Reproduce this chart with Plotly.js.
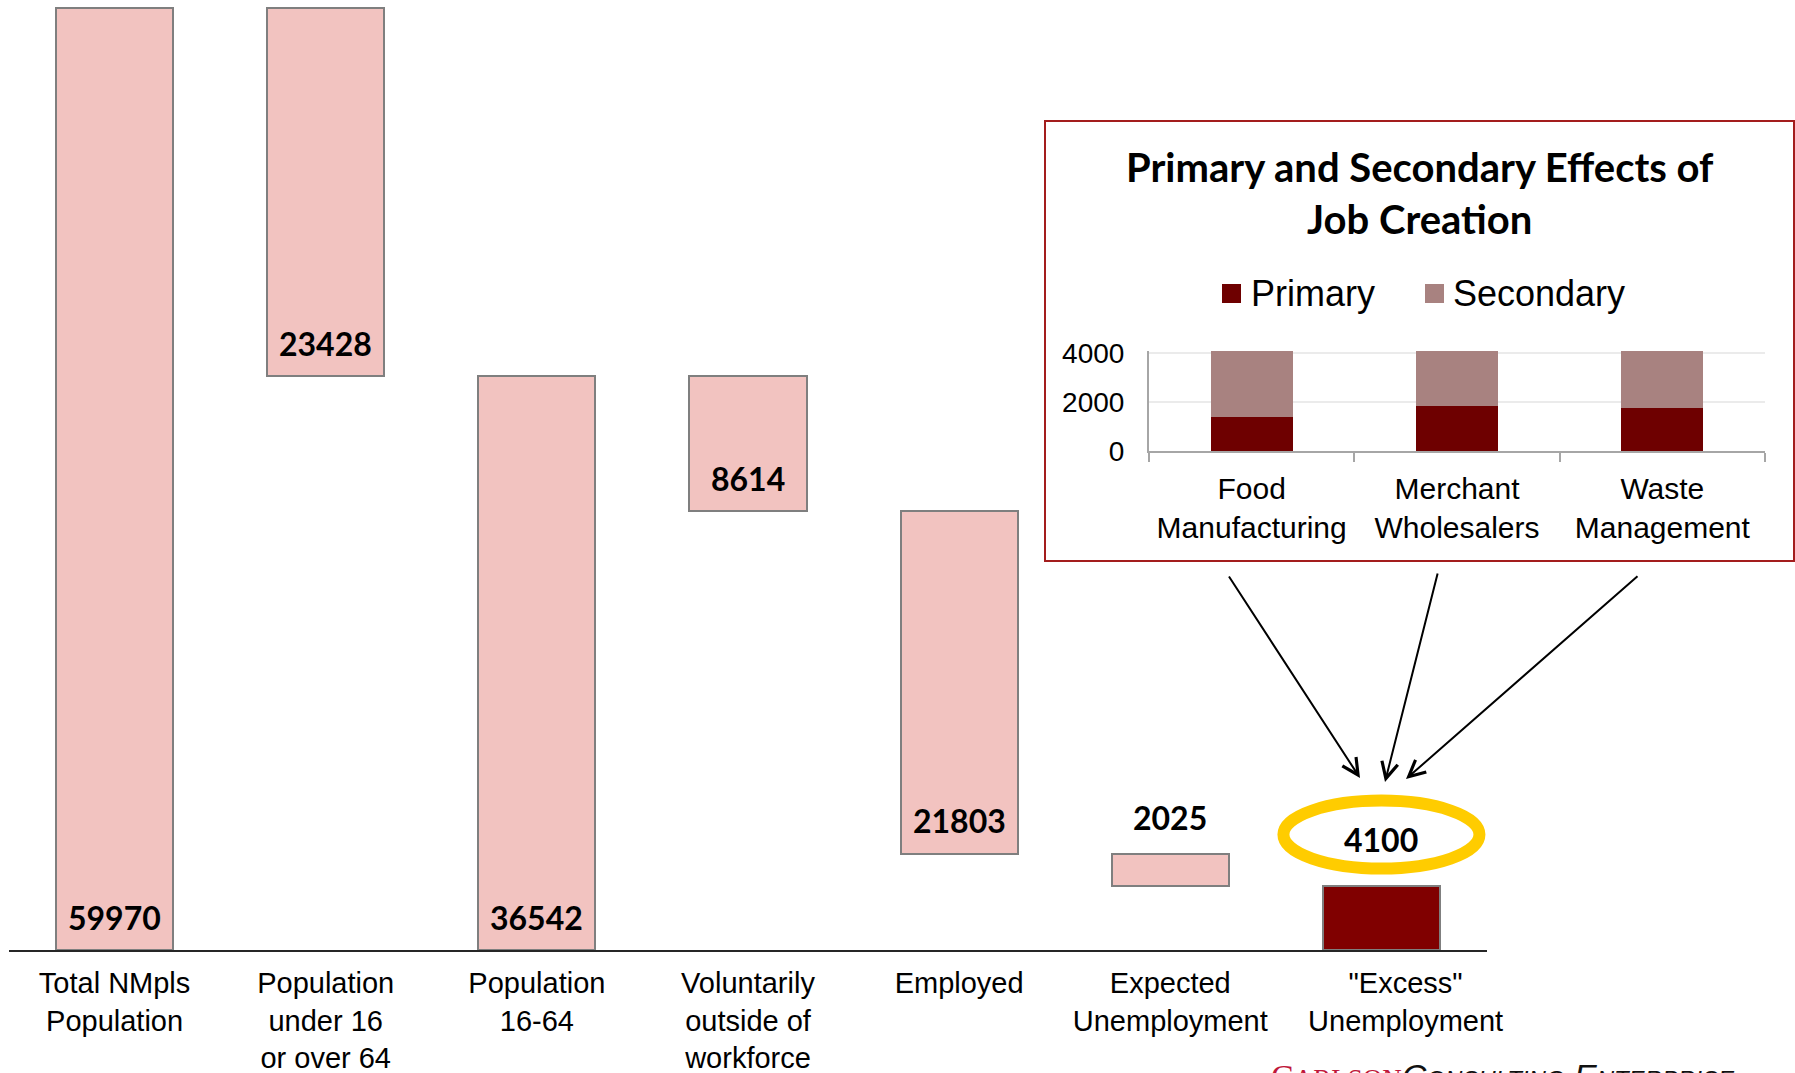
<!DOCTYPE html>
<html>
<head>
<meta charset="utf-8">
<script src="https://cdn.plot.ly/plotly-3.0.1.min.js"></script>
<style>html,body{margin:0;padding:0;background:#fff;}</style>
</head>
<body>
<div id="chart" style="width:1795px;height:1073px;"></div>
<script>
// ---- Data: population waterfall ----
const categories = [
  'Total NMpls<br>Population',
  'Population<br>under 16<br>or over 64',
  'Population<br>16-64',
  'Voluntarily<br>outside of<br>workforce',
  'Employed',
  'Expected<br>Unemployment',
  '"Excess"<br>Unemployment'
];
const stepValues = [59970, 23428, 36542, 8614, 21803, 2025, 4100];
const stepKinds  = ['total', 'decrease', 'total', 'decrease', 'decrease', 'decrease', 'total'];

// ---- Data: inset chart ----
const sectors = ['Food<br>Manufacturing', 'Merchant<br>Wholesalers', 'Waste<br>Management'];
const primaryJobs   = [1400, 1850, 1770];
const secondaryJobs = [2700, 2250, 2330];
const insetTitle = 'Primary and Secondary Effects of<br>Job Creation';
const seriesNames = ['Primary', 'Secondary'];

// ---- Build waterfall bases ----
const bases = [], heights = [];
let running = 0;
stepValues.forEach((v, i) => {
  if (stepKinds[i] === 'total') { bases.push(0); heights.push(v); running = v; }
  else { running -= v; bases.push(running); heights.push(v); }
});

const W = 1795, H = 1073, MB = 123, PH = H - MB;
const px = x => x / W;
const py = y => (PH - y) / PH;

const SANS = 'Liberation Sans, Arial, sans-serif';
const BOLD = 'Lato, Carlito, Calibri, sans-serif';

const pink = '#F2C3C0', darkRed = '#800000';
const barColors = categories.map((c, i) => i === categories.length - 1 ? darkRed : pink);

const traces = [
  {
    type: 'bar', x: categories, y: heights, base: bases,
    width: 0.555,
    marker: {color: barColors, line: {color: '#7F7F7F', width: 2}},
    hoverinfo: 'skip', showlegend: false, xaxis: 'x', yaxis: 'y'
  },
  {
    type: 'bar', name: seriesNames[0], x: sectors, y: primaryJobs,
    width: 0.4, marker: {color: '#6E0000'},
    xaxis: 'x2', yaxis: 'y2', showlegend: false, hoverinfo: 'skip'
  },
  {
    type: 'bar', name: seriesNames[1], x: sectors, y: secondaryJobs,
    width: 0.4, marker: {color: '#A88280'},
    xaxis: 'x2', yaxis: 'y2', showlegend: false, hoverinfo: 'skip'
  }
];

const annotations = [];
// value labels
stepValues.forEach((v, i) => {
  const last = i === categories.length - 1;
  const aboveBar = i >= 5;
  annotations.push({
    xref: 'x', yref: 'y', x: categories[i],
    y: aboveBar ? bases[i] + heights[i] : bases[i],
    yshift: aboveBar ? (last ? 46 : 36) : 33,
    text: '<b>' + v + '</b>', showarrow: false, yanchor: 'middle',
    font: {family: BOLD, size: 32, color: '#000'}
  });
});
// inset title
annotations.push({
  xref: 'paper', yref: 'paper', x: px(1420), y: py(193),
  text: '<b>' + insetTitle + '</b>', showarrow: false,
  xanchor: 'center', yanchor: 'middle',
  font: {family: BOLD, size: 40, color: '#000'}
});
// legend texts
annotations.push({
  xref: 'paper', yref: 'paper', x: px(1249), y: py(293),
  text: seriesNames[0], showarrow: false, xanchor: 'left', yanchor: 'middle',
  font: {family: SANS, size: 36, color: '#000'}
});
annotations.push({
  xref: 'paper', yref: 'paper', x: px(1451), y: py(293),
  text: seriesNames[1], showarrow: false, xanchor: 'left', yanchor: 'middle',
  font: {family: SANS, size: 36, color: '#000'}
});
// arrows from inset to the highlighted bar
[[1228, 575, 1360, 778], [1438, 572, 1385, 782], [1639, 575, 1406, 779]].forEach(a => {
  annotations.push({
    xref: 'paper', yref: 'paper', x: px(a[2]), y: py(a[3]),
    ax: a[0] - a[2], ay: a[1] - a[3], axref: 'pixel', ayref: 'pixel',
    text: '', showarrow: true, arrowhead: 5, arrowsize: 1.6, arrowwidth: 2,
    arrowcolor: '#000', standoff: 0
  });
});
// footer logo (cut off at the bottom edge, as in the original)
annotations.push({
  xref: 'paper', yref: 'paper', x: px(1269), y: py(1055), xanchor: 'left', yanchor: 'top',
  showarrow: false,
  text: '<span style="color:#C0173A;font-family:Liberation Serif">C<span style="font-size:27px">ARLSON</span></span>' +
        '<span style="color:#111"><i>C<span style="font-size:24px">ONSULTING</span> E<span style="font-size:24px">NTERPRISE</span></i></span>',
  font: {family: SANS, size: 34, color: '#111'}
});

const tickText = categories.map((c, i) => i === categories.length - 1
  ? c.split('<br>').map(s => '\u00a0'.repeat(6) + s).join('<br>') : c);

const layout = {
  width: W, height: H,
  margin: {l: 0, r: 0, t: 0, b: MB, pad: 0},
  paper_bgcolor: '#fff', plot_bgcolor: 'rgba(0,0,0,0)',
  showlegend: false, barmode: 'stack', bargap: 0.4,
  xaxis: {
    domain: [px(9), px(1487)], type: 'category', range: [-0.5, 6.5],
    tickvals: categories, ticktext: tickText,
    showline: true, linecolor: '#262626', linewidth: 2,
    ticks: '', showgrid: false, zeroline: false, ticklabelstandoff: 6,
    tickfont: {family: SANS, size: 29, color: '#000'}, tickangle: 0,
    fixedrange: true
  },
  yaxis: {
    domain: [0, 1], range: [0, 60479], visible: false, fixedrange: true
  },
  xaxis2: {
    domain: [px(1149), px(1765)], anchor: 'y2', type: 'category', range: [-0.5, 2.5],
    showline: true, linecolor: '#A6A6A6', linewidth: 2,
    ticks: 'outside', tickson: 'boundaries', ticklen: 9, tickwidth: 2, tickcolor: '#A6A6A6',
    showgrid: false, zeroline: false, tickangle: 0, ticklabelstandoff: 10,
    tickfont: {family: SANS, size: 30, color: '#000'}, fixedrange: true
  },
  yaxis2: {
    domain: [py(451), py(351)], anchor: 'x2', range: [0, 4100],
    tickvals: [0, 2000, 4000], ticktext: ['0', '2000', '4000'],
    showline: true, linecolor: '#A6A6A6', linewidth: 2,
    showgrid: true, gridcolor: '#EBEBEB', gridwidth: 2, zeroline: false,
    ticks: '', ticklabelstandoff: 17,
    tickfont: {family: SANS, size: 28, color: '#000'}, fixedrange: true
  },
  shapes: [
    {type: 'rect', xref: 'paper', yref: 'paper', x0: px(1045), x1: px(1794), y0: py(561), y1: py(121),
     line: {color: '#A31D1D', width: 2}, fillcolor: 'rgba(0,0,0,0)', layer: 'above'},
    {type: 'circle', xref: 'x', yref: 'y', xsizemode: 'pixel', ysizemode: 'pixel',
     xanchor: categories[6], yanchor: bases[6] + heights[6],
     x0: -98, x1: 98, y0: 17, y1: 85,
     line: {color: '#FFCC00', width: 12}, fillcolor: 'rgba(0,0,0,0)'},
    {type: 'rect', xref: 'paper', yref: 'paper', x0: px(1222), x1: px(1241), y0: py(303), y1: py(284),
     line: {width: 0}, fillcolor: '#6E0000'},
    {type: 'rect', xref: 'paper', yref: 'paper', x0: px(1425), x1: px(1444), y0: py(303), y1: py(284),
     line: {width: 0}, fillcolor: '#A88280'}
  ],
  annotations: annotations
};

Plotly.newPlot('chart', traces, layout, {displayModeBar: false, staticPlot: true});
</script>
</body>
</html>
